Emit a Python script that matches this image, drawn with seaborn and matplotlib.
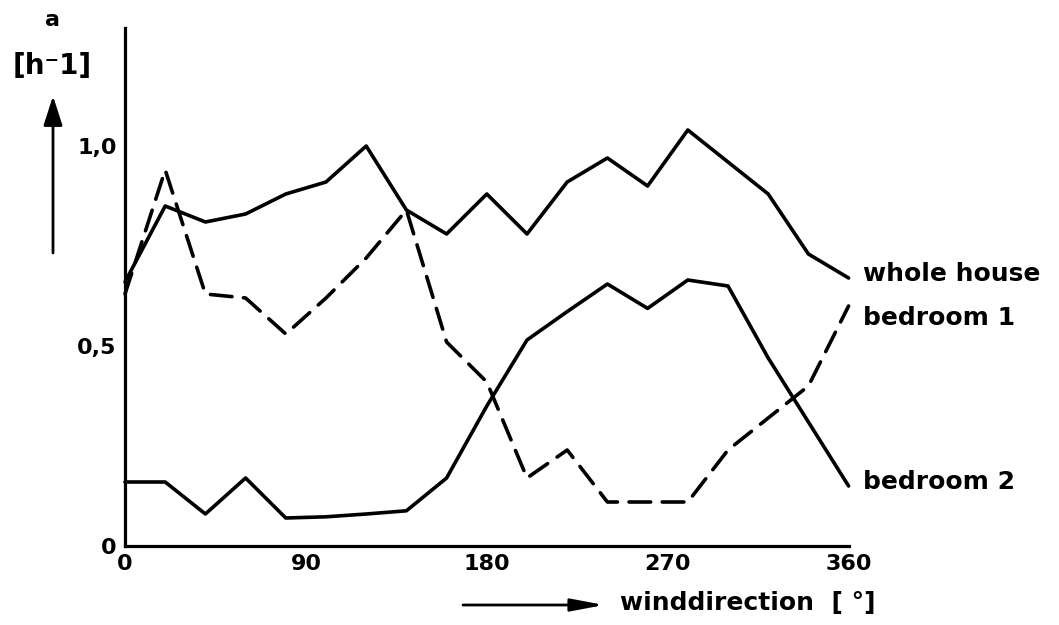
import matplotlib
matplotlib.use("Agg")
import matplotlib.pyplot as plt
import seaborn as sns
import pandas as pd

# ---- data ----
angles = [0, 20, 40, 60, 80, 100, 120, 140, 160, 180, 200, 220, 240, 260, 280, 300, 320, 340, 360]
whole_house = [0.66, 0.85, 0.81, 0.83, 0.88, 0.91, 1.00, 0.84, 0.78, 0.88, 0.78, 0.91, 0.97, 0.90, 1.04, 0.96, 0.88, 0.73, 0.67]
bedroom_1 = [0.63, 0.94, 0.63, 0.62, 0.53, 0.62, 0.72, 0.84, 0.51, 0.41, 0.17, 0.24, 0.11, 0.11, 0.11, 0.24, 0.32, 0.40, 0.60]
bedroom_2 = [0.16, 0.16, 0.08, 0.17, 0.07, 0.073, 0.08, 0.088, 0.17, 0.35, 0.515, 0.586, 0.655, 0.594, 0.665, 0.65, 0.47, 0.31, 0.15]
series_names = ["whole house", "bedroom 1", "bedroom 2"]
y_ticks = [0, 0.5, 1.0]
y_ticklabels = ["0", "0,5", "1,0"]
x_ticks = [0, 90, 180, 270, 360]
x_minor = [30, 60, 120, 150, 210, 240, 300, 330]
x_ticklabels = ["0", "90", "180", "270", "360"]

sns.set_style("white")
plt.rcParams['font.family'] = ['DejaVu Sans']
plt.rcParams['font.weight'] = 'bold'
plt.rcParams['text.color'] = 'black'
plt.rcParams['xtick.color'] = 'black'
plt.rcParams['ytick.color'] = 'black'

fig = plt.figure(figsize=(10.59, 6.25), dpi=100)
ax = fig.add_axes([125/1059, 79/625, (848.6-125)/1059, (546-28)/625])

df = pd.DataFrame({"angle": angles, "whole house": whole_house,
                   "bedroom 1": bedroom_1, "bedroom 2": bedroom_2})

sns.lineplot(data=df, x="angle", y="whole house", color="black", lw=2.6, ax=ax)
sns.lineplot(data=df, x="angle", y="bedroom 2", color="black", lw=2.6, ax=ax)
sns.lineplot(data=df, x="angle", y="bedroom 1", color="black", lw=2.6, ax=ax)
ax.lines[-1].set_dashes((6, 3.2))
for ln in ax.lines:
    ln.set_solid_capstyle("round")
    ln.set_dash_capstyle("round")
    ln.set_clip_on(False)

ax.set_xlim(0, 360)
ax.set_ylim(0, 1.295)
ax.set_xlabel("")
ax.set_ylabel("")
for s in ["top", "right"]:
    ax.spines[s].set_visible(False)
for s in ["left", "bottom"]:
    ax.spines[s].set_linewidth(2.3)
    ax.spines[s].set_color("black")

ax.set_yticks(y_ticks)
ax.set_yticklabels(y_ticklabels)
ax.set_xticks(x_ticks)
ax.set_xticklabels(x_ticklabels)
ax.set_xticks(x_minor, minor=True)
ax.tick_params(axis="y", direction="in", length=10, width=1.6, pad=6,
               labelsize=16, colors="black")
ax.tick_params(axis="x", which="major", direction="in", length=12, width=1.6, pad=6,
               labelsize=16, colors="black")
ax.tick_params(axis="x", which="minor", direction="in", length=6, width=1.4)
for t in ax.get_xticklabels() + ax.get_yticklabels():
    t.set_fontweight("bold")

# series labels at right end
label_y = [0.68, 0.57, 0.16]
for name, yv in zip(series_names, label_y):
    ax.text(367, yv, name, fontsize=18, fontweight="bold", va="center", ha="left",
            clip_on=False, color="black")

# y-axis unit label with arrow
fig.text(52/1059, 1 - 20/625, "a", fontsize=16, fontweight="bold", ha="center", va="center")
fig.text(52/1059, 1 - 66/625, "[h\u207b1]", fontsize=20, fontweight="bold", ha="center", va="center")
fig.add_artist(matplotlib.patches.FancyArrowPatch(
    (53/1059, 1 - 253/625), (53/1059, 1 - 96/625), transform=fig.transFigure,
    arrowstyle="-|>,head_length=9,head_width=2.9", color="black", lw=2,
    mutation_scale=2, shrinkA=0, shrinkB=0))

# x-axis label with arrow
fig.add_artist(matplotlib.patches.FancyArrowPatch(
    (463/1059, 1 - 605/625), (604/1059, 1 - 605/625), transform=fig.transFigure,
    arrowstyle="-|>,head_length=10,head_width=1.9", color="black", lw=2,
    mutation_scale=2, shrinkA=0, shrinkB=0))
fig.text(620/1059, 1 - 603/625, "winddirection  [ \u00b0]", fontsize=18, fontweight="bold",
         ha="left", va="center")

fig.savefig("out.png", dpi=100)
